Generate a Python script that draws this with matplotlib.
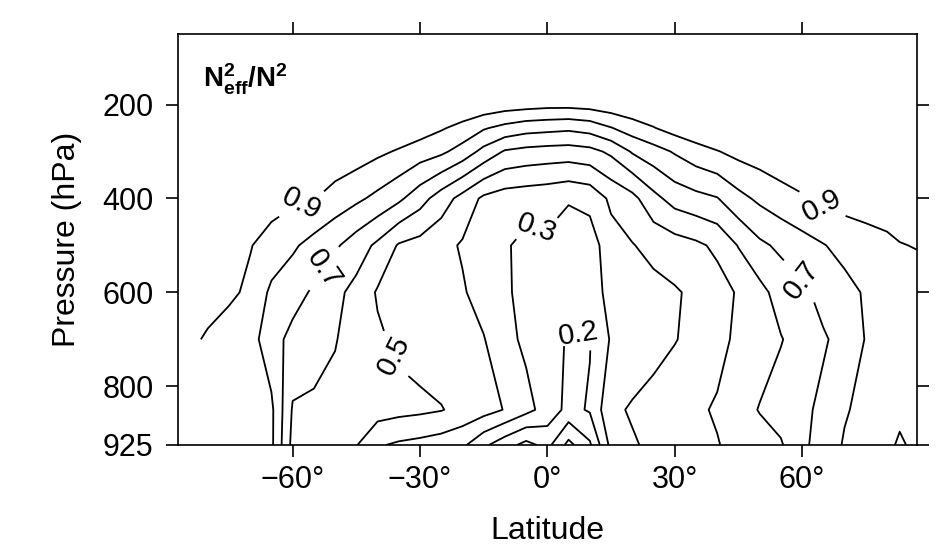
import numpy as np
import matplotlib.pyplot as plt

plt.rcParams['font.family'] = ['Liberation Sans', 'DejaVu Sans']
plt.rcParams['mathtext.fontset'] = 'custom'
plt.rcParams['mathtext.rm'] = 'Liberation Sans'
plt.rcParams['mathtext.bf'] = 'Liberation Sans:bold'
plt.rcParams['mathtext.it'] = 'Liberation Sans:italic'

nan = float('nan')

# grid of the field (latitude in degrees, pressure in hPa)
lats = [-87, -80, -75, -70, -65, -60, -55, -50, -45, -40, -35, -30, -25, -20,
        -15, -10, -5, 0, 5, 10, 15, 20, 25, 30, 35, 40, 45, 50, 55, 60, 65,
        70, 75, 80, 83, 87]
plevs = [50, 150, 200, 250, 300, 400, 500, 600, 700, 850, 925]

# N_eff^2 / N^2, one row per pressure level
ratio_050 = [1.0, 1.0, 1.0, 1.0, 1.0, 1.0, 1.0, 1.0, 1.0, 1.0, 1.0, 1.0, 1.0, 1.0,
             1.0, 1.0, 1.0, 1.0, 1.0, 1.0, 1.0, 1.0, 1.0, 1.0, 1.0, 1.0, 1.0, 1.0,
             1.0, 1.0, 1.0, 1.0, 1.0, 1.0, 1.0, 1.0]
ratio_150 = [1.0, 1.0, 1.0, 1.0, 1.0, 1.0, 1.0, 1.0, 1.0, 1.0, 1.0, 1.0, 1.0, 1.0,
             1.0, 0.99, 0.99, 0.99, 0.99, 0.99, 0.99, 1.0, 1.0, 1.0, 1.0, 1.0, 1.0, 1.0,
             1.0, 1.0, 1.0, 1.0, 1.0, 1.0, 1.0, 1.0]
ratio_200 = [1.0, 1.0, 1.0, 1.0, 1.0, 1.0, 1.0, 1.0, 1.0, 1.0, 1.0, 1.0, 0.99, 0.98,
             0.97, 0.95, 0.94, 0.93, 0.93, 0.94, 0.96, 0.98, 0.99, 1.0, 1.0, 1.0, 1.0, 1.0,
             1.0, 1.0, 1.0, 1.0, 1.0, 1.0, 1.0, 1.0]
ratio_250 = [1.0, 1.0, 1.0, 1.0, 1.0, 1.0, 1.0, 1.0, 1.0, 1.0, 0.97, 0.95, 0.91, 0.87,
             0.81, 0.77, 0.74, 0.73, 0.72, 0.74, 0.795, 0.85, 0.895, 0.94, 0.97, 1.0, 1.0, 1.0,
             1.0, 1.0, 1.0, 1.0, 1.0, 1.0, 1.0, 1.0]
ratio_300 = [1.0, 1.0, 1.0, 1.0, 1.0, 1.0, 1.0, 0.97, 0.95, 0.92, 0.89, 0.85, 0.82, 0.76,
             0.67, 0.59, 0.57, 0.56, 0.555, 0.57, 0.62, 0.71, 0.76, 0.81, 0.86, 0.895, 0.93, 0.95,
             0.97, 0.98, 0.99, 0.99, 0.99, 0.99, 0.99, 0.99]
ratio_400 = [0.99, 0.98, 0.97, 0.96, 0.94, 0.92, 0.905, 0.86, 0.82, 0.775, 0.72, 0.64, 0.55, 0.465,
             0.38, 0.35, 0.34, 0.33, 0.31, 0.33, 0.42, 0.47, 0.57, 0.64, 0.67, 0.695, 0.77, 0.82,
             0.86, 0.89, 0.92, 0.94, 0.95, 0.96, 0.965, 0.97]
ratio_500 = [0.97, 0.95, 0.93, 0.905, 0.86, 0.815, 0.765, 0.715, 0.65, 0.58, 0.49, 0.465, 0.43, 0.39,
             0.35, 0.31, 0.275, 0.285, 0.24, 0.25, 0.36, 0.395, 0.43, 0.455, 0.48, 0.52, 0.605, 0.68,
             0.72, 0.76, 0.795, 0.83, 0.855, 0.875, 0.895, 0.905]
ratio_600 = [0.97, 0.95, 0.92, 0.88, 0.78, 0.74, 0.685, 0.625, 0.57, 0.49, 0.47, 0.45, 0.43, 0.41,
             0.36, 0.31, 0.28, 0.26, 0.25, 0.255, 0.33, 0.35, 0.37, 0.39, 0.42, 0.46, 0.51, 0.57,
             0.64, 0.68, 0.73, 0.77, 0.81, 0.83, 0.84, 0.85]
ratio_700 = [0.95, 0.885, 0.85, 0.84, 0.74, 0.67, 0.635, 0.605, 0.56, 0.515, 0.48, 0.46, 0.44, 0.42,
             0.405, 0.33, 0.28, 0.24, 0.19, 0.195, 0.31, 0.34, 0.37, 0.395, 0.43, 0.47, 0.52, 0.555,
             0.595, 0.64, 0.69, 0.73, 0.805, 0.84, 0.85, 0.85]
ratio_850 = [nan, nan, nan, 0.85, 0.82, 0.59, 0.585, 0.575, 0.56, 0.545, 0.53, 0.52, 0.505, 0.47,
             0.44, 0.395, 0.33, 0.26, 0.17, 0.21, 0.38, 0.41, 0.43, 0.46, 0.485, 0.51, 0.56, 0.605,
             0.64, 0.68, 0.72, 0.79, 0.83, 0.85, 0.85, 0.85]
ratio_925 = [nan, nan, nan, 0.85, 0.82, 0.57, 0.56, 0.54, 0.505, 0.41, 0.385, 0.37, 0.35, 0.32,
             0.22, 0.14, 0.07, 0.13, -0.03, 0.085, 0.33, 0.39, 0.42, 0.44, 0.47, 0.495, 0.53, 0.56,
             0.59, 0.68, 0.74, 0.81, 0.84, 0.85, 0.93, 0.85]

plain_levels = [0.0, 0.1, 0.4, 0.6, 0.8]
label_levels = [0.2, 0.3, 0.5, 0.7, 0.9]
# where the inline labels sit (lat, hPa)
label_spots = [(-57.5, 421), (64.6, 415), (-52.6, 549), (60, 572), (-36.5, 735),
               (-2.5, 466), (7.5, 684)]

xticks = [-60, -30, 0, 30, 60]
xticklabels = ['\u221260\u00b0', '\u221230\u00b0', '0\u00b0', '30\u00b0', '60\u00b0']
yticks = [200, 400, 600, 800, 925]

field = np.ma.masked_invalid(np.array([ratio_050, ratio_150, ratio_200, ratio_250,
                                        ratio_300, ratio_400, ratio_500, ratio_600,
                                        ratio_700, ratio_850, ratio_925]))

fig = plt.figure(figsize=(9.47, 5.59), dpi=100)
ax = fig.add_axes([0.188, 0.204, 0.780, 0.735])

ax.contour(lats, plevs, field, levels=plain_levels, colors='k',
           linewidths=1.3, linestyles='solid')
cs = ax.contour(lats, plevs, field, levels=label_levels, colors='k',
                linewidths=1.3, linestyles='solid')
ax.clabel(cs, manual=label_spots, inline=True, fmt='%.1f',
          fontsize=21, inline_spacing=6)

ax.set_xlim(-87, 87)
ax.set_ylim(925, 50)
ax.set_xticks(xticks)
ax.set_xticklabels(xticklabels)
ax.set_yticks(yticks)
ax.tick_params(which='both', direction='out', length=8.5, width=1.2,
               labelsize=22, top=True, right=True)
ax.tick_params(axis='x', pad=6)
ax.tick_params(axis='y', pad=9)
for s in ax.spines.values():
    s.set_linewidth(1.2)

ax.set_xlabel('Latitude', fontsize=23, labelpad=15)
ax.set_ylabel('Pressure (hPa)', fontsize=23, labelpad=15)

ax.text(0.034, 0.869, r'$\mathbf{N^2_{eff}/N^2}$', transform=ax.transAxes,
        fontsize=20, va='baseline', ha='left')

fig.savefig('out.png', dpi=100)
